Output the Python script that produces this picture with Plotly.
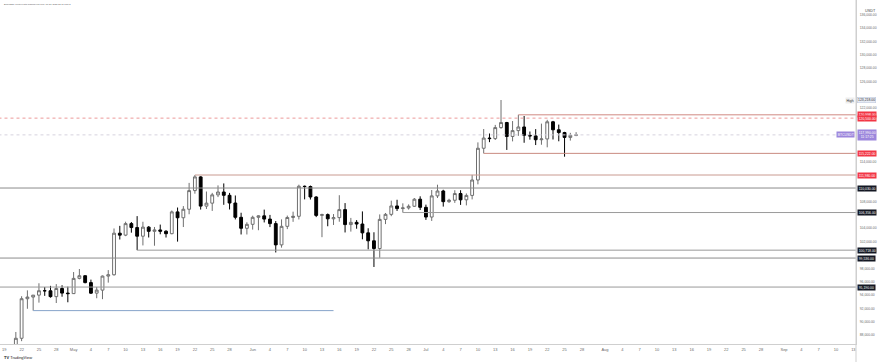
import plotly.graph_objects as go
import pandas as pd

# ---------------- data ----------------
dates = pd.date_range("2025-04-19", periods=100, freq="D")
open_ = [84450, 85056, 85170, 87516, 93442, 93691, 93980, 94638, 94631, 93754, 94978, 94284,
         94207, 96489, 96887, 95856, 94277, 94733, 96835, 97030, 103261, 102971, 104697, 104106,
         102812, 104169, 103539, 103745, 103556, 103186, 106454, 105573, 106849, 109643, 111696,
         107318, 107762, 109004, 109434, 108938, 107782, 105641, 103998,
         104591, 105642, 105858, 105376, 104697, 101509, 104288, 105615, 105793, 110294, 110257,
         108686, 105929, 106046, 105414, 105595, 106794, 104551, 104886, 104632, 103310, 102120,
         100963, 105333, 106084, 107341, 106947, 107047, 107296, 108356,
         107135, 105681, 108850, 109584, 107984, 108198, 109203, 108262, 108922, 111233, 115987,
         117516, 117435, 119086, 119841, 117758, 118630, 119177, 117924, 117840, 117265, 117380,
         119954, 118755, 118340, 117614, 117919]
high = [85600, 85320, 88460, 93817, 94696, 94000, 95758, 95199, 95369, 95630, 95461, 95250,
        97437, 97895, 96935, 96304, 95199, 96920, 97732, 103969, 104361, 104984, 104937, 105819,
        104976, 104324, 104192, 104550, 103709, 106660, 107108, 107320, 110797, 111980, 111800,
        109507, 109300, 110422, 110718, 109298, 108910, 106325, 104900,
        105882, 105935, 106794, 105999, 105079, 105333, 105900, 106488, 110530, 110400, 110400,
        108806, 106182, 106214, 106128, 108952, 107771, 105550, 105226, 106524, 104000, 103399,
        106074, 106290, 108135, 108272, 107735, 107577, 108528, 108789,
        107540, 109730, 110529, 109767, 108420, 109700, 109700, 109216, 111999, 116868, 118869,
        118200, 119488, 123218, 119940, 120063, 120998, 120820, 118499, 118856, 119676, 120247,
        120090, 119535, 118451, 118297, 118400]
low = [84300, 83950, 85140, 87084, 91935, 91660, 92855, 93870, 93602, 92800, 93742, 92910,
       94153, 96350, 95753, 94151, 93514, 93377, 95854, 96910, 102316, 102818, 103338, 100718,
       101430, 102618, 101383, 103100, 102612, 103106, 102000, 104184, 106099, 109177, 106800,
       106892, 106600, 108670, 107516, 106812, 105322, 103068, 103068,
       103800, 103705, 104872, 104174, 100372, 101095, 103871, 104964, 105318, 108331, 108306,
       105671, 102664, 104300, 104494, 104980, 103371, 103500, 103929, 102345, 100838, 98200,
       99588, 104622, 105808, 106595, 106356, 106800, 107206, 106733,
       105250, 105100, 108530, 107245, 107800, 107800, 107500, 107429, 108324, 110582, 115222,
       116900, 117224, 118905, 115736, 117017, 117844, 116812, 117277, 116467, 116515, 116128,
       117301, 117031, 114723, 117138, 117800]
close = [85056, 85170, 87516, 93442, 93691, 93980, 94638, 94631, 93754, 94978, 94284, 94207,
         96489, 96887, 95856, 94277, 94733, 96835, 97030, 103261, 102971, 104697, 104106, 102812,
         104169, 103539, 103745, 103556, 103186, 106454, 105573, 106849, 109643, 111696, 107318,
         107762, 109004, 109434, 108938, 107782, 105641, 103998, 104591,
         105642, 105858, 105376, 104697, 101509, 104288, 105615, 105793, 110294, 110257, 108686,
         105929, 106046, 105414, 105595, 106794, 104551, 104886, 104632, 103310, 102120, 100963,
         105333, 106084, 107341, 106947, 107047, 107296, 108356, 107135,
         105681, 108850, 109584, 107984, 108198, 109203, 108262, 108922, 111233, 115987, 117516,
         117435, 119086, 119841, 117758, 118630, 119177, 117924, 117840, 117265, 117380, 119954,
         118755, 118340, 117614, 117919, 117990]

# horizontal levels drawn on the chart
level_price = [120998, 120500, 115222, 111980, 110030, 106356, 100718, 99536, 95190, 91660]
level_start = ["2025-07-17", "2025-01-01", "2025-07-11", "2025-05-22", "2025-01-01",
               "2025-06-27", "2025-05-12", "2025-01-01", "2025-01-01", "2025-04-24"]
level_end = ["2025-12-31"] * 9 + ["2025-06-15"]
level_color = ["#d08a82", "#ec9a9a", "#c98a80", "#c99a90", "#8c8c8c",
               "#9a9a9a", "#9a9a9a", "#8c8c8c", "#9a9a9a", "#86a3c9"]
level_dash = ["solid", "dot", "solid", "solid", "solid",
              "solid", "solid", "solid", "solid", "solid"]

# price-scale boxes
box_price = [120998, 120500, 115222, 111980, 110030, 106356, 100718, 99536, 95190]
box_color = ["#f23645", "#f23645", "#f23645", "#f23645", "#131722",
             "#131722", "#131722", "#131722", "#131722"]

last_price = 117990
countdown = "11:17:25"
ath_price = 123218

price_ticks_all = list(range(88000, 138001, 2000))

tick_dates = ["2025-04-19", "2025-04-22", "2025-04-25", "2025-04-28", "2025-05-01",
              "2025-05-04", "2025-05-07", "2025-05-10", "2025-05-13", "2025-05-16",
              "2025-05-19", "2025-05-22", "2025-05-25", "2025-05-28", "2025-06-01",
              "2025-06-04", "2025-06-07", "2025-06-10", "2025-06-13", "2025-06-16",
              "2025-06-19", "2025-06-22", "2025-06-25", "2025-06-28", "2025-07-01",
              "2025-07-04", "2025-07-07", "2025-07-10", "2025-07-13", "2025-07-16",
              "2025-07-19", "2025-07-22", "2025-07-25", "2025-07-28", "2025-08-01",
              "2025-08-04", "2025-08-07", "2025-08-10", "2025-08-13", "2025-08-16",
              "2025-08-19", "2025-08-22", "2025-08-25", "2025-08-28", "2025-09-01",
              "2025-09-04", "2025-09-07", "2025-09-10", "2025-09-13"]
tick_text = ["19", "22", "25", "28", "May", "4", "7", "10", "13", "16", "19", "22", "25", "28",
             "Jun", "4", "7", "10", "13", "16", "19", "22", "25", "28", "Jul", "4", "7", "10",
             "13", "16", "19", "22", "25", "28", "Aug", "4", "7", "10", "13", "16", "19", "22",
             "25", "28", "Sep", "4", "7", "10", "13"]

x_range = ["2025-04-18 06:10", "2025-09-13 11:00"]
y_range = [86658, 138202]

FONT = "Liberation Sans, Arial, sans-serif"

# hide scale labels that would sit underneath a price box (as the price scale does)
occupied = box_price + [last_price, ath_price]
price_ticks = [v for v in price_ticks_all if all(abs(v - o) > 800 for o in occupied)]

# ---------------- figure ----------------
fig = go.Figure()

for p, s, e, c, d in zip(level_price, level_start, level_end, level_color, level_dash):
    fig.add_trace(go.Scatter(x=[s, e], y=[p, p], mode="lines",
                             line=dict(color=c, width=1, dash=d),
                             hoverinfo="skip", showlegend=False))

# last price line
fig.add_trace(go.Scatter(x=["2025-01-01", "2025-12-31"], y=[last_price, last_price],
                         mode="lines", line=dict(color="#d6d3de", width=1, dash="dot"),
                         hoverinfo="skip", showlegend=False))

fig.add_trace(go.Candlestick(
    x=dates, open=open_, high=high, low=low, close=close,
    increasing=dict(line=dict(color="#6f6f6f", width=1), fillcolor="#ffffff"),
    decreasing=dict(line=dict(color="#000000", width=1), fillcolor="#000000"),
    whiskerwidth=0, showlegend=False, hoverinfo="skip"))

fig.update_layout(
    width=882, height=362,
    margin=dict(l=0, r=26, t=0, b=18, autoexpand=False),
    paper_bgcolor="#ffffff", plot_bgcolor="#ffffff",
    font=dict(family=FONT, color="#555555"),
    showlegend=False, hovermode=False,
    xaxis=dict(type="date", range=x_range, rangeslider=dict(visible=False),
               tickmode="array", tickvals=tick_dates, ticktext=tick_text,
               tickfont=dict(size=4, color="#6a6a6a"), ticks="", showgrid=False,
               showline=True, linecolor="#cfcfcf", linewidth=1, zeroline=False,
               ticklabelstandoff=1, automargin=False, fixedrange=True),
    yaxis=dict(side="right", range=y_range, tickmode="array", tickvals=price_ticks,
               ticktext=[f"{v:,.2f}" for v in price_ticks],
               tickfont=dict(size=3.4, color="#6a6a6a"), ticks="", showgrid=False,
               showline=True, linecolor="#cfcfcf", linewidth=1, zeroline=False,
               ticklabelstandoff=2, automargin=False, fixedrange=True),
)

annotations = []
for p, c in zip(box_price, box_color):
    annotations.append(dict(x=1, xref="paper", y=p, yref="y", xanchor="left", yanchor="middle",
                            xshift=1, text=f"{p:,.2f}", showarrow=False, bgcolor=c,
                            font=dict(size=3.4, color="#ffffff", family=FONT), borderpad=0.7))
# last price box
annotations.append(dict(x=1, xref="paper", y=last_price, yref="y", xanchor="left",
                        yanchor="middle", xshift=1,
                        text=f"{last_price:,.2f}<br>{countdown}", showarrow=False,
                        bgcolor="#9c86dc", font=dict(size=3.4, color="#ffffff", family=FONT),
                        borderpad=0.8))
annotations.append(dict(x=1, xref="paper", y=last_price, yref="y", xanchor="right",
                        yanchor="middle", xshift=-1, text="BTCUSDT", showarrow=False,
                        bgcolor="#9c86dc", font=dict(size=3.4, color="#ffffff", family=FONT),
                        borderpad=0.7))
# all-time high box
annotations.append(dict(x=1, xref="paper", y=ath_price, yref="y", xanchor="left",
                        yanchor="middle", xshift=1, text=f"{ath_price:,.2f}", showarrow=False,
                        bgcolor="#e8ecf5", bordercolor="#b9c3d8", borderwidth=0.5,
                        font=dict(size=3.4, color="#333333", family=FONT), borderpad=0.6))
annotations.append(dict(x=1, xref="paper", y=ath_price, yref="y", xanchor="right",
                        yanchor="middle", xshift=-1, text="High", showarrow=False,
                        bgcolor="#eeeeee", font=dict(size=3.4, color="#333333", family=FONT),
                        borderpad=0.6))
# currency
annotations.append(dict(x=1, xref="paper", y=1, yref="paper", xanchor="left", yanchor="top",
                        xshift=7, yshift=-7, text="USDT", showarrow=False,
                        font=dict(size=3.8, color="#444444", family=FONT)))
# header
annotations.append(dict(x=0, xref="paper", y=1, yref="paper", xanchor="left", yanchor="top",
                        xshift=2, yshift=-1,
                        text="BTCUSDT, created with TradingView.com, Jul 27, 2025 12:42 UTC-3",
                        showarrow=False, font=dict(size=2.2, color="#555555", family=FONT)))
# watermark
annotations.append(dict(x=0, xref="paper", y=0, yref="paper", xanchor="left", yanchor="top",
                        xshift=2, yshift=-9, text="<b>TV</b> TradingView", showarrow=False,
                        font=dict(size=4, color="#222222", family=FONT)))
fig.update_layout(annotations=annotations)

# price-scale separator extending through time axis
fig.add_shape(type="line", xref="paper", yref="paper", x0=1, x1=1, y0=-0.06, y1=1,
              line=dict(color="#cfcfcf", width=1))

fig.write_html("out.html", config={"displayModeBar": False, "staticPlot": True},
               post_script="document.body.style.margin='0';document.body.style.padding='0';")
